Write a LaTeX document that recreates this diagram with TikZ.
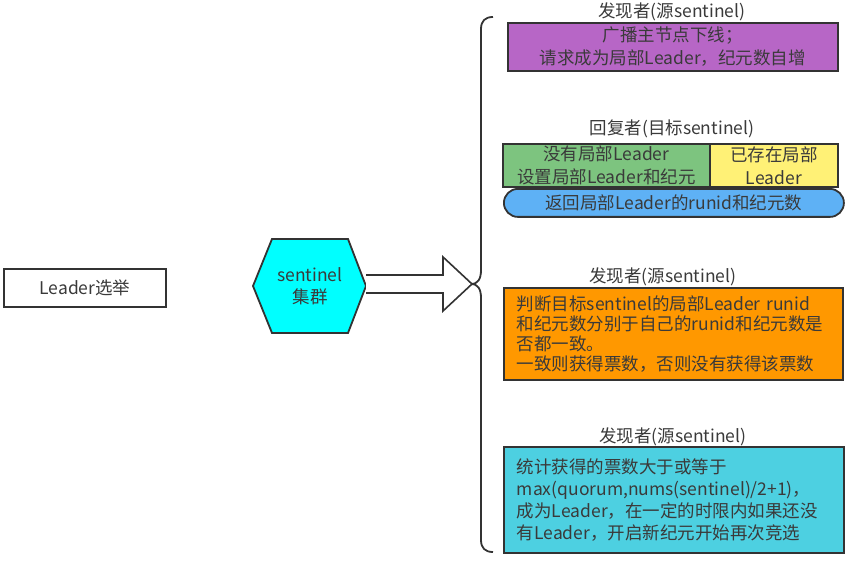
\documentclass[tikz,border=0pt]{standalone}
\usepackage{fontspec}
\setmainfont{Noto Sans CJK SC}
\definecolor{ink}{HTML}{333333}
\definecolor{txt}{HTML}{3A3A3A}
\definecolor{cpurple}{HTML}{B766C6}
\definecolor{cgreen}{HTML}{7DC47F}
\definecolor{cyellow}{HTML}{FFF176}
\definecolor{cblue}{HTML}{5EB1F5}
\definecolor{corange}{HTML}{FF9800}
\definecolor{ccyan}{HTML}{4DD0E1}
\definecolor{chex}{HTML}{00FFFF}
\begin{document}
\begin{tikzpicture}[x=1pt,y=-1pt,
  every node/.style={text=txt,font=\fontsize{17.5}{23}\selectfont},
  box/.style={draw=ink,line width=1.8pt,inner sep=0pt},
  title/.style={inner sep=0pt,anchor=center}]
\useasboundingbox (0,0) rectangle (865,564);
% left box
\node[box,minimum width=162pt,minimum height=38pt,anchor=north west,fill=white] (leader) at (3,268) {Leader选举};
% hexagon
\draw[ink,line width=1.8pt,fill=chex] (253,286) -- (272,239) -- (348,239) -- (366,286) -- (348,333) -- (272,333) -- cycle;
\node[align=center,font=\fontsize{17.5}{22}\selectfont] (hex) at (310,286) {sentinel\\集群};
% block arrow
\coordinate (a0) at (366,275);
\coordinate (tip) at (472,284);
\draw[ink,line width=1.6pt,fill=white,line join=miter] (a0) -- (443,275) -- (443,257) -- (tip) -- (443,311) -- (443,293) -- (366,293);
% brace
\draw[ink,line width=1.8pt] (493,17) .. controls (485,17) and (481,21) .. (481,29) -- (481,270)
  .. controls (481,279) and (478,284) .. (471,284)
  .. controls (478,284) and (481,289) .. (481,298) -- (481,540)
  .. controls (481,548) and (485,552) .. (493,552);
% group 1
\node[title] (t1) at (672,12) {发现者(源sentinel)};
\node[box,fill=cpurple,minimum width=330pt,minimum height=48pt,anchor=north west,align=center] (b1) at (507,22) {广播主节点下线；\\请求成为局部Leader，纪元数自增};
% group 2
\node[title] (t2) at (672,129) {回复者(目标sentinel)};
\node[box,fill=cgreen,minimum width=207pt,minimum height=43pt,anchor=north west,align=center] (b2a) at (502,143) {没有局部Leader\\设置局部Leader和纪元};
\node[box,fill=cyellow,minimum width=128pt,minimum height=43pt,anchor=north west,align=center] (b2b) at (709,143) {已存在局部\\Leader};
\node[box,fill=cblue,rounded corners=14pt,minimum width=340pt,minimum height=28pt,anchor=north west] (b2c) at (503,188) {返回局部Leader的runid和纪元数};
% group 3
\node[title] (t3) at (663,277) {发现者(源sentinel)};
\node[box,fill=corange,minimum width=339pt,minimum height=92pt,anchor=north west,align=left,text width=313pt,inner xsep=13pt,font=\fontsize{17.5}{20}\selectfont] (b3) at (503,287) {判断目标sentinel的局部Leader runid\\和纪元数分别于自己的runid和纪元数是\\否都一致。\\一致则获得票数，否则没有获得该票数};
% group 4
\node[title] (t4) at (673,437) {发现者(源sentinel)};
\node[box,fill=ccyan,minimum width=340pt,minimum height=106pt,anchor=north west,align=left,text width=314pt,inner xsep=13pt,font=\fontsize{17.5}{22}\selectfont] (b4) at (503,446) {统计获得的票数大于或等于\\max(quorum,nums(sentinel)/2+1)，\\成为Leader，在一定的时限内如果还没\\有Leader，开启新纪元开始再次竞选};
\end{tikzpicture}
\end{document}
